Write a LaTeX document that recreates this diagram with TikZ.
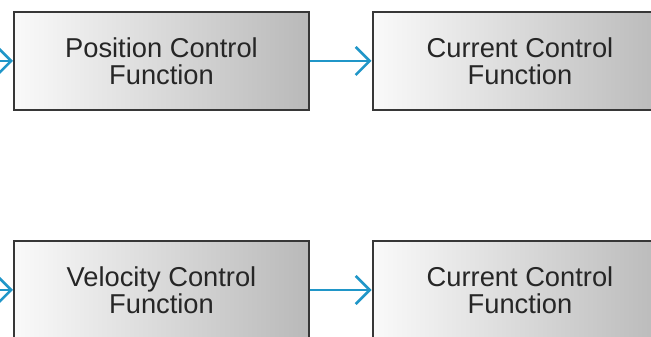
\documentclass[tikz,border=0pt]{standalone}
\usepackage{fontspec}
\setmainfont{Liberation Sans}
\usetikzlibrary{arrows.meta}
\definecolor{arrowblue}{RGB}{32,150,200}
\definecolor{boxedge}{RGB}{55,55,55}
\tikzset{
  fnbox/.style={draw=boxedge, line width=2pt, left color=white!96!gray, right color=gray!55,
    minimum width=295pt, minimum height=98pt, inner sep=0pt, align=center,
    font=\fontsize{27.3}{27}\selectfont, text=black!85},
  flowarrow/.style={draw=arrowblue, line width=2.6pt, -{Straight Barb[length=14pt,width=28pt,line width=2.6pt]}}
}
\begin{document}
\begin{tikzpicture}[x=1pt,y=1pt]
\useasboundingbox (0,0) rectangle (651,337);
\node[fnbox] (pos) at (161.5,276) {Position Control\\Function};
\node[fnbox] (cur1) at (520,276) {Current Control\\Function};
\node[fnbox] (vel) at (161.5,47) {Velocity Control\\Function};
\node[fnbox] (cur2) at (520,47) {Current Control\\Function};
\coordinate (in1) at (-4,276);
\coordinate (in2) at (-4,47);
\draw[flowarrow] (in1) -- (pos.west);
\draw[flowarrow] (pos.east) -- (cur1.west);
\draw[flowarrow] (in2) -- (vel.west);
\draw[flowarrow] (vel.east) -- (cur2.west);
\end{tikzpicture}
\end{document}
